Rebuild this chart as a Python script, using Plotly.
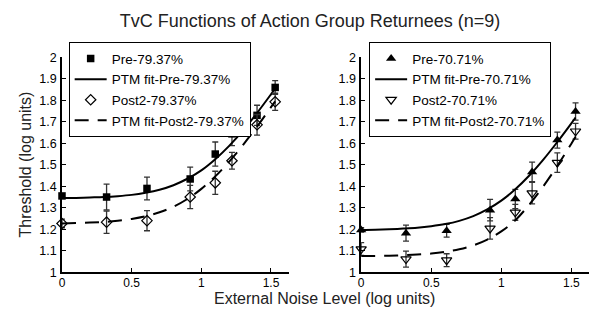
import plotly.graph_objects as go

# ---- data ----
noise_levels = [0, 0.32, 0.61, 0.92, 1.10, 1.22, 1.40, 1.53]

pre_79 = [1.355, 1.350, 1.390, 1.434, 1.550, 1.644, 1.730, 1.860]
pre_79_err = [0.010, 0.060, 0.053, 0.055, 0.056, 0.055, 0.047, 0.032]
post2_79 = [1.227, 1.233, 1.240, 1.350, 1.416, 1.519, 1.686, 1.793]
post2_79_err = [0.020, 0.052, 0.047, 0.054, 0.054, 0.039, 0.048, 0.040]

pre_70 = [1.197, 1.182, 1.193, 1.289, 1.341, 1.467, 1.615, 1.748]
pre_70_err = [0.010, 0.037, 0.030, 0.050, 0.045, 0.045, 0.037, 0.040]
post2_70 = [1.108, 1.061, 1.056, 1.204, 1.279, 1.368, 1.510, 1.656]
post2_70_err = [0.030, 0.037, 0.030, 0.050, 0.037, 0.050, 0.045, 0.037]

fit_x = [0, 0.1, 0.2, 0.3, 0.4, 0.5, 0.6, 0.7, 0.8, 0.9, 1.0, 1.1, 1.2, 1.3, 1.4, 1.5, 1.53]
fit_pre_79 = [1.345, 1.346, 1.348, 1.350, 1.354, 1.360, 1.370, 1.384, 1.405, 1.435, 1.474, 1.526, 1.588, 1.660, 1.741, 1.828, 1.855]
fit_post2_79 = [1.227, 1.229, 1.231, 1.234, 1.240, 1.248, 1.260, 1.279, 1.305, 1.341, 1.388, 1.446, 1.515, 1.593, 1.678, 1.768, 1.795]
fit_pre_70 = [1.197, 1.198, 1.200, 1.203, 1.207, 1.214, 1.224, 1.239, 1.261, 1.292, 1.333, 1.386, 1.450, 1.524, 1.606, 1.693, 1.720]
fit_post2_70 = [1.076, 1.076, 1.077, 1.079, 1.082, 1.087, 1.095, 1.107, 1.125, 1.152, 1.190, 1.242, 1.315, 1.400, 1.495, 1.598, 1.630]

y_ticks = [1, 1.1, 1.2, 1.3, 1.4, 1.5, 1.6, 1.7, 1.8, 1.9, 2]
y_ticklabels = ["1", "1.1", "1.2", "1.3", "1.4", "1.5", "1.6", "1.7", "1.8", "1.9", "2"]
x_ticks = [0, 0.5, 1, 1.5]
x_ticklabels = ["0", "0.5", "1", "1.5"]

title_text = "TvC Functions of Action Group Returnees (n=9)"
x_title = "External Noise Level (log units)"
y_title = "Threshold (log units)"

FONT = "Arial, Liberation Sans, sans-serif"
ERRC = "#333333"
DASH = "14px,9px"

fig = go.Figure()

def err(vals):
    return dict(type="data", array=vals, visible=True, color=ERRC, thickness=1.3, width=3)

# left panel
fig.add_trace(go.Scatter(x=noise_levels, y=pre_79, mode="markers", name="Pre-79.37%",
                         marker=dict(symbol="square", size=7.5, color="black"),
                         error_y=err(pre_79_err), cliponaxis=False,
                         xaxis="x", yaxis="y", legend="legend"))
fig.add_trace(go.Scatter(x=fit_x, y=fit_pre_79, mode="lines", name="PTM fit-Pre-79.37%",
                         line=dict(color="black", width=2, shape="spline"),
                         xaxis="x", yaxis="y", legend="legend"))
fig.add_trace(go.Scatter(x=noise_levels, y=post2_79, mode="markers", name="Post2-79.37%",
                         marker=dict(symbol="diamond-open", size=8, color="black", line=dict(width=1.2)),
                         error_y=err(post2_79_err), cliponaxis=False,
                         xaxis="x", yaxis="y", legend="legend"))
fig.add_trace(go.Scatter(x=fit_x, y=fit_post2_79, mode="lines", name="PTM fit-Post2-79.37%",
                         line=dict(color="black", width=2, dash=DASH, shape="spline"),
                         xaxis="x", yaxis="y", legend="legend"))

# right panel
fig.add_trace(go.Scatter(x=noise_levels, y=pre_70, mode="markers", name="Pre-70.71%",
                         marker=dict(symbol="triangle-up", size=9, color="black"),
                         error_y=err(pre_70_err), cliponaxis=False,
                         xaxis="x2", yaxis="y2", legend="legend2"))
fig.add_trace(go.Scatter(x=fit_x, y=fit_pre_70, mode="lines", name="PTM fit-Pre-70.71%",
                         line=dict(color="black", width=2, shape="spline"),
                         xaxis="x2", yaxis="y2", legend="legend2"))
fig.add_trace(go.Scatter(x=noise_levels, y=post2_70, mode="markers", name="Post2-70.71%",
                         marker=dict(symbol="triangle-down-open", size=9, color="black", line=dict(width=1.2)),
                         error_y=err(post2_70_err), cliponaxis=False,
                         xaxis="x2", yaxis="y2", legend="legend2"))
fig.add_trace(go.Scatter(x=fit_x, y=fit_post2_70, mode="lines", name="PTM fit-Post2-70.71%",
                         line=dict(color="black", width=2, dash=DASH, shape="spline"),
                         xaxis="x2", yaxis="y2", legend="legend2"))

xax = dict(range=[0, 1.626], tickvals=x_ticks, ticktext=x_ticklabels, ticks="inside", ticklen=4,
           tickcolor="black", showline=True, linecolor="black", linewidth=1.5, showgrid=False,
           zeroline=False, tickfont=dict(size=12, color="black", family=FONT), ticklabelstandoff=-1)
yax = dict(range=[1, 2], tickvals=y_ticks, ticktext=y_ticklabels, ticks="inside", ticklen=4,
           tickcolor="black", showline=True, linecolor="black", linewidth=1.5, showgrid=False,
           zeroline=False, tickfont=dict(size=12.5, color="black", family=FONT), ticklabelstandoff=1)

leg = dict(bgcolor="white", bordercolor="black", borderwidth=1, font=dict(size=13.5, color="black", family=FONT),
           itemwidth=32, yanchor="top", xanchor="left", tracegroupgap=0)

fig.update_layout(
    width=589, height=312,
    margin=dict(l=0, r=0, t=0, b=0),
    paper_bgcolor="white", plot_bgcolor="white",
    font=dict(family=FONT, color="black"),
    title=dict(text=title_text, x=310 / 589, xanchor="center", y=1 - 20.5 / 312, yanchor="middle",
               yref="container", font=dict(size=18, color="#222222", family=FONT)),
    xaxis=dict(xax, domain=[59.3 / 589, 287 / 589], anchor="y"),
    yaxis=dict(yax, domain=[34.3 / 312, 259.3 / 312], anchor="x"),
    xaxis2=dict(xax, domain=[360 / 589, 1.0], anchor="y2"),
    yaxis2=dict(yax, domain=[34.3 / 312, 259.3 / 312], anchor="x2"),
    legend=dict(leg, x=66 / 589, y=1 - 37 / 312),
    legend2=dict(leg, x=368 / 589, y=1 - 37 / 312),
    annotations=[
        dict(text=x_title, x=323 / 589, y=(312 - 305.5) / 312, xref="paper", yref="paper",
             showarrow=False, xanchor="center", yanchor="middle",
             font=dict(size=16, color="#222222", family=FONT)),
        dict(text=y_title, x=23 / 589, y=(312 - 165) / 312, xref="paper", yref="paper",
             showarrow=False, xanchor="center", yanchor="middle", textangle=-90,
             font=dict(size=16, color="#222222", family=FONT)),
    ],
)

fig.write_html("out.html", config={"displayModeBar": False},
               post_script="document.body.style.margin='0';document.body.style.overflow='hidden';")
